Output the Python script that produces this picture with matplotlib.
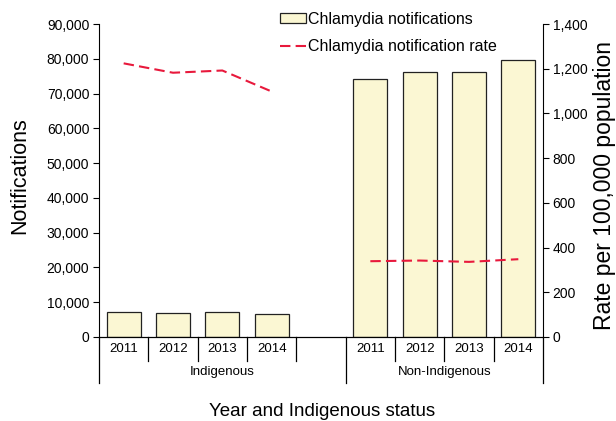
import matplotlib
matplotlib.use("Agg")
import matplotlib.pyplot as plt
from matplotlib.patches import Patch
from matplotlib.lines import Line2D
from matplotlib.ticker import FuncFormatter
import matplotlib.transforms as mtransforms

plt.rcParams['font.family'] = ['Liberation Sans', 'DejaVu Sans']

years = ['2011', '2012', '2013', '2014']
groups = ['Indigenous', 'Non-Indigenous']
indig_notif = [7070, 6980, 7180, 6610]
nonindig_notif = [74100, 76300, 76300, 79600]
indig_rate = [1224, 1182, 1192, 1098]
nonindig_rate = [339, 342, 336, 348]

bar_col = '#FBF7D3'
edge_col = '#222222'
line_col = '#E8193C'

W, H = 616, 421
fig = plt.figure(figsize=(W/100, H/100), dpi=100)
ax = fig.add_axes([99/W, 1-337/H, 444/W, 313/H])

# slot positions: 4 Indigenous, one empty slot, 4 Non-Indigenous
x_ind = [0, 1, 2, 3]
x_non = [5, 6, 7, 8]

ax.bar(x_ind, indig_notif, width=0.69, color=bar_col, edgecolor=edge_col, linewidth=0.9)
ax.bar(x_non, nonindig_notif, width=0.69, color=bar_col, edgecolor=edge_col, linewidth=0.9)
ax.set_xlim(-0.5, 8.5)
ax.set_ylim(0, 90000)
ax.set_yticks(range(0, 90001, 10000))
ax.yaxis.set_major_formatter(FuncFormatter(lambda v, p: f"{int(v):,}"))
ax.set_xticks([])
ax.tick_params(axis='y', direction='out', length=4, labelsize=10, pad=3)
ax.spines['top'].set_visible(False)
ax.spines['right'].set_visible(False)

ax2 = ax.twinx()
ax2.plot(x_ind, indig_rate, color=line_col, lw=1.5, dashes=[5, 2.5])
ax2.plot(x_non, nonindig_rate, color=line_col, lw=1.5, dashes=[5, 2.5])
ax2.set_ylim(0, 1400)
ax2.set_yticks(range(0, 1401, 200))
ax2.yaxis.set_major_formatter(FuncFormatter(lambda v, p: f"{int(v):,}"))
ax2.tick_params(axis='y', direction='out', length=4, labelsize=10, pad=3)
ax2.spines['top'].set_visible(False)
ax2.spines['left'].set_visible(False)

# category axis with two label rows
trans = mtransforms.blended_transform_factory(ax.transData, ax.transAxes)
row1 = -24/313
row2 = -46/313
for b in [-0.5, 0.5, 1.5, 2.5, 3.5, 4.5, 5.5, 6.5, 7.5, 8.5]:
    y_end = row2 if b in (-0.5, 4.5, 8.5) else row1
    ax.plot([b, b], [0, y_end], color='black', lw=0.9, transform=trans, clip_on=False)
for xs in (x_ind, x_non):
    for x, yr in zip(xs, years):
        ax.text(x, row1/2, yr, transform=trans, ha='center', va='center', fontsize=9.5)
ax.text(2.0, (row1+row2)/2, groups[0], transform=trans, ha='center', va='center', fontsize=9.5)
ax.text(6.5, (row1+row2)/2, groups[1], transform=trans, ha='center', va='center', fontsize=9.5)

# axis titles
fig.text(322/W, 1-411/H, 'Year and Indigenous status', ha='center', va='center', fontsize=13.5)
fig.text(20/W, 1-176/H, 'Notifications', rotation=90, ha='center', va='center', fontsize=15.5)
fig.text(604/W, 1-185/H, 'Rate per 100,000 population', rotation=90,
         ha='center', va='center', fontsize=16.5)

handles = [Patch(facecolor=bar_col, edgecolor=edge_col, linewidth=0.9),
           Line2D([0], [0], color=line_col, lw=1.5, dashes=[5, 2.5])]
fig.legend(handles, ['Chlamydia notifications', 'Chlamydia notification rate'],
           loc='upper left', bbox_to_anchor=(280/W, 1-12/H), frameon=False,
           fontsize=11.5, borderpad=0, borderaxespad=0, handlelength=1.6,
           handleheight=0.56, handletextpad=0.15, labelspacing=0.75)

fig.savefig('out.png', dpi=100)
